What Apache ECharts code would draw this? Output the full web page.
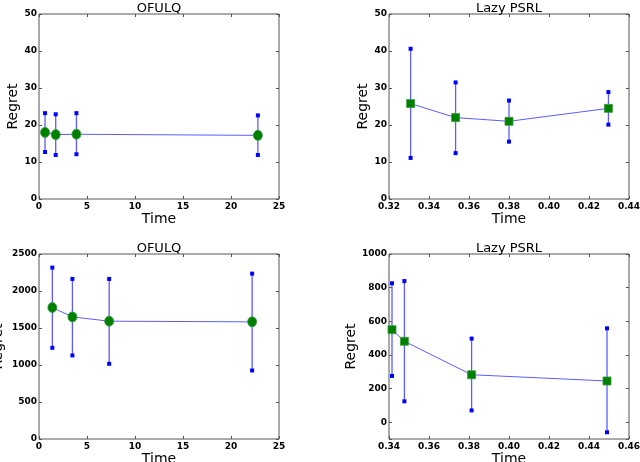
<!DOCTYPE html>
<html>
<head>
<meta charset="utf-8">
<script src="https://cdn.jsdelivr.net/npm/echarts@6/dist/echarts.min.js"></script>
<style>html,body{margin:0;padding:0;background:#fff}#c{width:640px;height:462px}</style>
</head>
<body>
<div id="c"></div>
<script>
// Panel 1: OFULQ (top)
const p1Time = [0.63, 1.74, 3.9, 22.8];
const p1Regret = [18.0, 17.4, 17.5, 17.2];
const p1Low = [12.7, 11.9, 12.1, 11.9];
const p1High = [23.2, 22.9, 23.2, 22.6];
// Panel 2: Lazy PSRL (top)
const p2Time = [0.3308, 0.3533, 0.38, 0.4297];
const p2Regret = [25.8, 22.0, 21.0, 24.5];
const p2Low = [11.1, 12.4, 15.5, 20.1];
const p2High = [40.6, 31.5, 26.6, 28.9];
// Panel 3: OFULQ (bottom)
const p3Time = [1.39, 3.48, 7.31, 22.2];
const p3Regret = [1776, 1650, 1592, 1583];
const p3Low = [1232, 1129, 1016, 926];
const p3High = [2316, 2163, 2163, 2235];
// Panel 4: Lazy PSRL (bottom)
const p4Time = [0.3415, 0.3477, 0.3813, 0.449];
const p4Regret = [550, 481, 282, 245];
const p4Low = [275, 124, 70, -60];
const p4High = [826, 839, 497, 558];

const titles = ['OFULQ', 'Lazy PSRL', 'OFULQ', 'Lazy PSRL'];
const xRanges = [[0, 25, 5], [0.32, 0.44, 0.02], [0, 25, 5], [0.34, 0.46, 0.02]];
const yRanges = [[0, 50, 10], [0, 50, 10], [0, 2500, 500], [-100, 1000, null]];

const panels = [
  {t: p1Time, y: p1Regret, lo: p1Low, hi: p1High, sym: 'circle'},
  {t: p2Time, y: p2Regret, lo: p2Low, hi: p2High, sym: 'rect'},
  {t: p3Time, y: p3Regret, lo: p3Low, hi: p3High, sym: 'circle'},
  {t: p4Time, y: p4Regret, lo: p4Low, hi: p4High, sym: 'rect'}
];

const FONT = 'DejaVu Sans';
const gridPos = [
  {left: 39, top: 14, width: 240, height: 185},
  {left: 389, top: 14, width: 240, height: 185},
  {left: 39, top: 254, width: 240, height: 185},
  {left: 389, top: 254, width: 240, height: 185}
];
const yNameGaps = [18, 16, 34, 26];
const xDecimals = [0, 2, 0, 2];

const grid = gridPos.map(g => Object.assign({show: true, borderColor: '#555', borderWidth: 1,
  backgroundColor: 'transparent', containLabel: false, outerBoundsMode: 'none'}, g));

const tickStyle = {show: true, inside: true, length: 3, lineStyle: {color: '#555', width: 1}};
const noLine = {show: false, onZero: false};
const xAxis = [], yAxis = [];
for (let i = 0; i < 4; i++) {
  const xr = xRanges[i];
  xAxis.push({
    type: 'value', gridIndex: i, position: 'bottom', min: xr[0], max: xr[1], interval: xr[2],
    axisLine: noLine, axisTick: tickStyle, splitLine: {show: false},
    axisLabel: {fontFamily: FONT, fontSize: 9, fontWeight: 'bold', color: '#000', margin: 3,
      showMinLabel: true, showMaxLabel: true,
      formatter: v => xDecimals[i] ? v.toFixed(xDecimals[i]) : String(Math.round(v))},
    name: 'Time', nameLocation: 'middle', nameGap: 9,
    nameTextStyle: {fontFamily: FONT, fontSize: 14, color: '#000'}
  });
}
for (let i = 0; i < 4; i++) {
  const xr = xRanges[i];
  xAxis.push({
    type: 'value', gridIndex: i, position: 'top', min: xr[0], max: xr[1], interval: xr[2],
    axisLine: noLine, axisTick: tickStyle, splitLine: {show: false}, axisLabel: {show: false},
    name: titles[i], nameLocation: 'middle', nameGap: -1,
    nameTextStyle: {fontFamily: FONT, fontSize: 13, color: '#000', verticalAlign: 'bottom', lineHeight: 13}
  });
}
for (let i = 0; i < 4; i++) {
  const yr = yRanges[i];
  const ax = {
    type: 'value', gridIndex: i, position: 'left', min: yr[0], max: yr[1],
    axisLine: noLine, axisTick: tickStyle, splitLine: {show: false},
    axisLabel: {fontFamily: FONT, fontSize: 9, fontWeight: 'bold', color: '#000', margin: 2,
      formatter: v => (v < yr[0] + 1e-9 && yr[0] < 0) ? '' : String(Math.round(v))},
    name: 'Regret', nameLocation: 'middle', nameGap: yNameGaps[i], nameRotate: 90,
    nameTextStyle: {fontFamily: FONT, fontSize: 14, color: '#000'}
  };
  if (yr[2]) ax.interval = yr[2]; else ax.splitNumber = 5;
  yAxis.push(ax);
}
for (let i = 0; i < 4; i++) {
  const yr = yRanges[i];
  const ax = {
    type: 'value', gridIndex: i, position: 'right', min: yr[0], max: yr[1],
    axisLine: noLine, axisTick: tickStyle, splitLine: {show: false}, axisLabel: {show: false}
  };
  if (yr[2]) ax.interval = yr[2]; else ax.splitNumber = 5;
  yAxis.push(ax);
}

const series = [];
panels.forEach((p, i) => {
  series.push({
    type: 'custom', xAxisIndex: i, yAxisIndex: i, z: 2,
    data: p.t.map((t, k) => [t, p.lo[k], p.hi[k]]),
    encode: {x: 0, y: [1, 2]},
    clip: false,
    renderItem: (params, api) => {
      const x = api.value(0);
      const a = api.coord([x, api.value(1)]);
      const b = api.coord([x, api.value(2)]);
      const s = 4;
      return {
        type: 'group',
        children: [
          {type: 'line', shape: {x1: a[0], y1: a[1], x2: b[0], y2: b[1]}, style: {stroke: '#5c5cff', lineWidth: 1.3}},
          {type: 'rect', shape: {x: a[0] - s / 2, y: a[1] - s / 2, width: s, height: s}, style: {fill: '#0000ff'}},
          {type: 'rect', shape: {x: b[0] - s / 2, y: b[1] - s / 2, width: s, height: s}, style: {fill: '#0000ff'}}
        ]
      };
    }
  });
  series.push({
    type: 'line', xAxisIndex: i, yAxisIndex: i, z: 3,
    data: p.t.map((t, k) => [t, p.y[k]]),
    symbol: p.sym, symbolSize: p.sym === 'circle' ? [9, 10] : 8,
    showSymbol: true, showAllSymbol: true,
    lineStyle: {color: '#5c5cff', width: 1},
    itemStyle: {color: '#008000', borderColor: '#3a9a3a', borderWidth: 0.8},
    emphasis: {disabled: true}
  });
});

const chart = echarts.init(document.getElementById('c'), null, {renderer: 'canvas'});
chart.setOption({animation: false, grid, xAxis, yAxis, series});
</script>
</body>
</html>
